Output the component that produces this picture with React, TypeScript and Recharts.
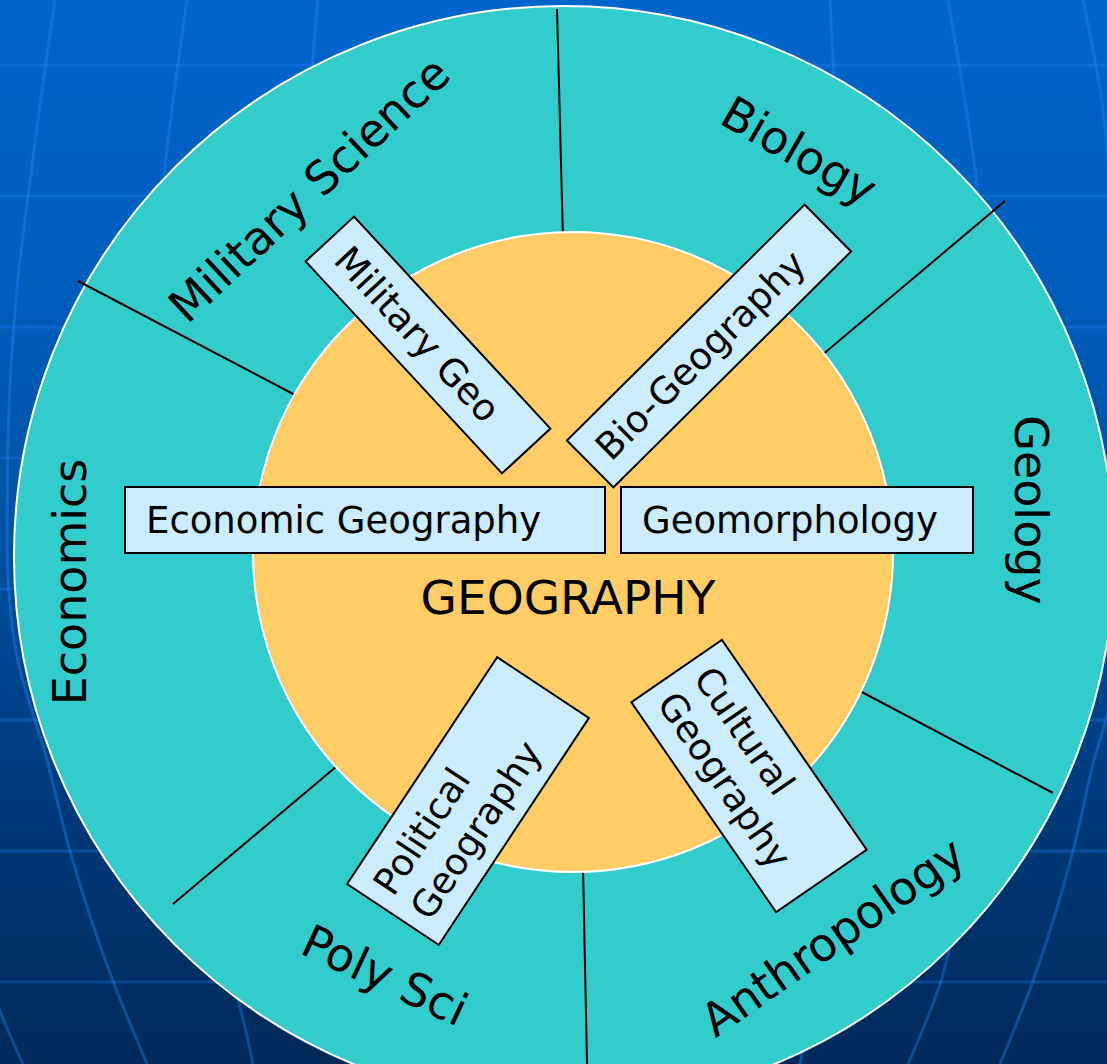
import React from 'react'
import { ScatterChart, Scatter, XAxis, YAxis } from 'recharts'

const W = 1107
const H = 1064
const FONT = '"DejaVu Sans", Verdana, sans-serif'

// names
const disciplines = ['Military Science', 'Biology', 'Geology', 'Anthropology', 'Poly Sci', 'Economics']
const subfields = [
  ['Military Geo'],
  ['Bio-Geography'],
  ['Economic Geography'],
  ['Geomorphology'],
  ['Political', 'Geography'],
  ['Cultural', 'Geography'],
]
const centerLabel = 'GEOGRAPHY'

// layout (axis units == pixels)
const outerDisc = { x: 564, y: 556, r: 550 }
const innerDisc = { x: 573, y: 552, r: 320 }

const disciplineLayout = [
  { x: 320, y: 201, angle: -43 },
  { x: 791, y: 165, angle: 30 },
  { x: 1015, y: 510, angle: 90 },
  { x: 842, y: 950, angle: -35 },
  { x: 378, y: 990, angle: 25 },
  { x: 86, y: 582, angle: -90 },
]

const boxLayout = [
  { x: 428, y: 345, w: 289, h: 66, angle: 47.2, pad: 18 },
  { x: 709, y: 346, w: 335, h: 66, angle: -44.8, pad: 16 },
  { x: 365, y: 520, w: 480, h: 66, angle: 0, pad: 21 },
  { x: 797, y: 520, w: 352, h: 66, angle: 0, pad: 21 },
  { x: 468, y: 801, w: 272, h: 110, angle: -56.5, pad: 14 },
  { x: 749, y: 776, w: 255, h: 110, angle: 55.4, pad: 15 },
]

const dividers = [
  [{ x: 563, y: 240 }, { x: 557, y: 9 }],
  [{ x: 821, y: 356 }, { x: 1005, y: 201 }],
  [{ x: 858, y: 690 }, { x: 1053, y: 793 }],
  [{ x: 583, y: 866 }, { x: 587, y: 1064 }],
  [{ x: 337, y: 766 }, { x: 173, y: 904 }],
  [{ x: 297, y: 396 }, { x: 78, y: 281 }],
]

// globe grid in the background
const latitudes = [65, 196, 327, 458, 589, 720, 851, 982]
const meridians = [
  [{ x: -40, y: 800 }, { x: 0, y: 1011 }, { x: 23, y: 1064 }],
  [{ x: 55, y: 0 }, { x: 34, y: 150 }, { x: 16, y: 300 }, { x: 8, y: 440 }, { x: 7, y: 540 }, { x: 14, y: 640 }, { x: 48, y: 764 }, { x: 70, y: 851 }, { x: 113, y: 981 }, { x: 147, y: 1064 }],
  [{ x: 187, y: 0 }, { x: 163, y: 187 }, { x: 150, y: 400 }, { x: 155, y: 620 }, { x: 190, y: 850 }, { x: 222, y: 955 }, { x: 233, y: 984 }, { x: 253, y: 1064 }],
  [{ x: 318, y: 0 }, { x: 313, y: 57 }, { x: 300, y: 300 }],
  [{ x: 830, y: 0 }, { x: 833, y: 60 }, { x: 840, y: 300 }],
  [{ x: 948, y: 0 }, { x: 977, y: 187 }, { x: 990, y: 400 }, { x: 985, y: 650 }, { x: 960, y: 900 }, { x: 940, y: 984 }, { x: 908, y: 1064 }],
  [{ x: 1083, y: 0 }, { x: 1103, y: 110 }, { x: 1115, y: 300 }, { x: 1120, y: 540 }, { x: 1110, y: 700 }, { x: 1093, y: 764 }, { x: 1073, y: 851 }, { x: 1033, y: 981 }, { x: 1000, y: 1064 }],
  [{ x: 830, y: 850 }, { x: 810, y: 1011 }, { x: 800, y: 1064 }],
]

const ringRows = disciplines.map((name, i) => ({ name, ...disciplineLayout[i] }))
const boxRows = subfields.map((lines, i) => ({ lines, ...boxLayout[i] }))

const none = () => <g />

const Disc = (fill: string) => (p: any) => (
  <circle cx={p.cx} cy={p.cy} r={p.payload.r} fill={fill} stroke="#ffffff" strokeWidth={2} />
)

const RingLabel = (p: any) => (
  <text
    x={p.cx}
    y={p.cy}
    transform={`rotate(${p.payload.angle} ${p.cx} ${p.cy})`}
    textAnchor="middle"
    fontSize={46}
    fontFamily={FONT}
    fill="#000"
  >
    {p.payload.name}
  </text>
)

const Box = (p: any) => {
  const { w, h, angle, pad, lines } = p.payload
  const fs = 37
  const lh = fs * 1.2
  return (
    <g transform={`translate(${p.cx} ${p.cy}) rotate(${angle})`}>
      <rect x={-w / 2} y={-h / 2} width={w} height={h} fill="#CCECFF" stroke="#000" strokeWidth={2} />
      {lines.map((t: string, i: number) => (
        <text
          key={t}
          x={-w / 2 + pad}
          y={(i - (lines.length - 1) / 2) * lh + fs * 0.36}
          fontSize={fs}
          fontFamily={FONT}
          fill="#000"
        >
          {t}
        </text>
      ))}
    </g>
  )
}

const CenterText = (p: any) => (
  <text x={p.cx} y={p.cy} textAnchor="middle" fontSize={47} fontFamily={FONT} fill="#000">
    {centerLabel}
  </text>
)

export default function App() {
  return (
    <div
      style={{
        position: 'absolute',
        left: 0,
        top: 0,
        width: W,
        height: H,
        background: 'linear-gradient(to bottom, #0066CC 0%, #005DBA 28%, #0050A2 50%, #003B7C 75%, #002A5A 100%)',
      }}
    >
      <ScatterChart width={W} height={H} margin={{ top: 0, right: 0, bottom: 0, left: 0 }}>
        <XAxis type="number" dataKey="x" domain={[0, W]} hide allowDataOverflow />
        <YAxis type="number" dataKey="y" domain={[0, H]} hide reversed allowDataOverflow />

        {latitudes.map((y) => (
          <Scatter
            key={`lat-${y}`}
            data={[{ x: 0, y }, { x: W, y }]}
            line={{ stroke: 'rgba(40,140,255,0.28)', strokeWidth: 3 }}
            shape={none}
            isAnimationActive={false}
          />
        ))}
        {meridians.map((pts, i) => (
          <Scatter
            key={`mer-${i}`}
            data={pts}
            line={{ stroke: 'rgba(40,140,255,0.35)', strokeWidth: 3 }}
            lineJointType="monotoneY"
            shape={none}
            isAnimationActive={false}
          />
        ))}

        <Scatter data={[outerDisc]} shape={Disc('#33CCCC')} isAnimationActive={false} />

        {dividers.map((pts, i) => (
          <Scatter
            key={`div-${i}`}
            data={pts}
            line={{ stroke: '#000', strokeWidth: 2 }}
            shape={none}
            isAnimationActive={false}
          />
        ))}

        <Scatter data={[innerDisc]} shape={Disc('#FFCC66')} isAnimationActive={false} />

        <Scatter data={boxRows} shape={Box} isAnimationActive={false} />
        <Scatter data={ringRows} shape={RingLabel} isAnimationActive={false} />
        <Scatter data={[{ x: 568, y: 614 }]} shape={CenterText} isAnimationActive={false} />
      </ScatterChart>
    </div>
  )
}
